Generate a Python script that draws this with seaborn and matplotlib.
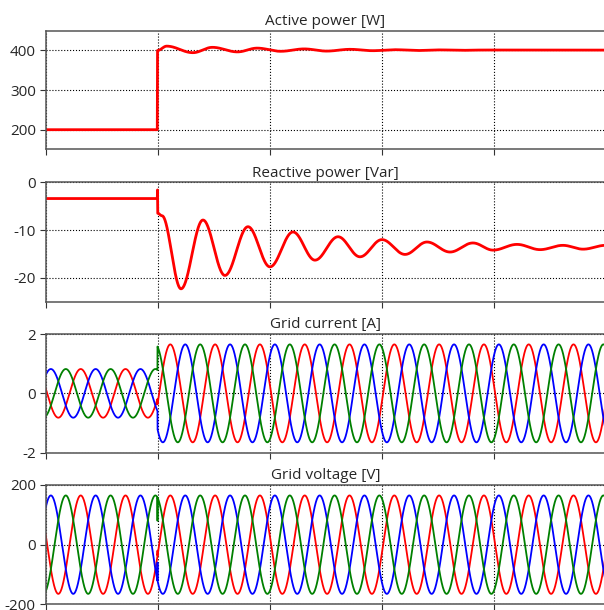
import numpy as np
import pandas as pd
import seaborn as sns
import matplotlib.pyplot as plt

sns.set_theme(style="white")
plt.rcParams['font.family'] = ['Open Sans', 'DejaVu Sans']
plt.rcParams['axes.unicode_minus'] = False

# ---- values ----
t_end = 0.25          # s, five 0.05 s grid cells
t_step = 0.05         # load step instant
dt = 2e-5
grid_freq = 50.0      # Hz

phase_names = ['a', 'b', 'c']
phase_colors = ['#ff0000', '#0000ff', '#008000']
phase_shift_deg = [167.0, 47.0, 287.0]

volt_amp = 165.0
volt_glitch = [-20.0, -60.0, 80.0]   # one-sample spike at the step
curr_amp_before = 0.82
curr_amp_after = 1.65

# active power: knots at the turning points of the response
p_knot_t = [0.0, 0.0499, 0.0500, 0.0541, 0.0658, 0.0745, 0.0857, 0.0945, 0.1050,
            0.1155, 0.1255, 0.1360, 0.1460, 0.1560, 0.1660, 0.1760, 0.1860,
            0.1960, 0.2500]
p_knot_v = [200, 200, 400, 411, 394.5, 408, 396.5, 406, 398,
            404, 398.5, 403, 399.5, 402, 400, 401.5, 400.5,
            401.2, 401]

# reactive power
q_knot_t = [0.0, 0.0499, 0.0500, 0.0501, 0.0520, 0.0605, 0.0703, 0.0801, 0.0904,
            0.1002, 0.1105, 0.1203, 0.1306, 0.1404, 0.1502, 0.1605, 0.1703,
            0.1806, 0.1908, 0.1998, 0.2105, 0.2208, 0.2310, 0.2400, 0.2500]
q_knot_v = [-3.4, -3.4, -1.6, -6.5, -7.0, -22.3, -7.9, -19.5, -9.3,
            -17.7, -10.4, -16.3, -11.4, -15.6, -12.0, -15.1, -12.5,
            -14.6, -12.7, -14.2, -13.0, -14.1, -13.2, -14.0, -13.2]

titles = ['Active power [W]', 'Reactive power [Var]', 'Grid current [A]', 'Grid voltage [V]']
yticks = [[200, 300, 400], [-20, -10, 0], [-2, 0, 2], [-200, 0, 200]]
ylims = [(150, 450), (-25, 0), (-2, 2), (-200, 200)]

# ---- build curves ----
t = np.arange(0, t_end + dt / 2, dt)


def smooth_through(kt, kv):
    # half-cosine segments between successive turning points
    out = np.empty_like(t)
    idx = np.clip(np.searchsorted(kt, t, side='right') - 1, 0, len(kt) - 2)
    t0 = np.asarray(kt)[idx]
    t1 = np.asarray(kt)[idx + 1]
    v0 = np.asarray(kv, dtype=float)[idx]
    v1 = np.asarray(kv, dtype=float)[idx + 1]
    s = np.clip((t - t0) / (t1 - t0), 0, 1)
    out[:] = v0 + (v1 - v0) * (1 - np.cos(np.pi * s)) / 2
    return out


df_p = pd.DataFrame({'t': t, 'v': smooth_through(p_knot_t, p_knot_v)})
df_q = pd.DataFrame({'t': t, 'v': smooth_through(q_knot_t, q_knot_v)})

i_step = int(round(t_step / dt))
w = 2 * np.pi * grid_freq
cur_rows, volt_rows = [], []
for name, ph, g in zip(phase_names, phase_shift_deg, volt_glitch):
    base = np.sin(w * t + np.deg2rad(ph))
    amp = np.where(t < t_step, curr_amp_before, curr_amp_after)
    v = volt_amp * base
    v[i_step] = g
    cur_rows.append(pd.DataFrame({'t': t, 'v': amp * base, 'phase': name}))
    volt_rows.append(pd.DataFrame({'t': t, 'v': v, 'phase': name}))
df_i = pd.concat(cur_rows, ignore_index=True)
df_v = pd.concat(volt_rows, ignore_index=True)

# ---- figure ----
fig = plt.figure(figsize=(6.04, 6.10), dpi=100)
W, H = 604.0, 610.0
left_px, right_px = 45.5, 605.5
tops = [30.7, 182.3, 334.0, 485.0]
bots = [149.5, 301.7, 452.7, 604.3]

palette = dict(zip(phase_names, phase_colors))
axes = []
for k in range(4):
    ax = fig.add_axes([left_px / W, (H - bots[k]) / H,
                       (right_px - left_px) / W, (bots[k] - tops[k]) / H])
    axes.append(ax)

sns.lineplot(data=df_p, x='t', y='v', ax=axes[0], color='#ff0000', lw=2.0,
             estimator=None, sort=False)
sns.lineplot(data=df_q, x='t', y='v', ax=axes[1], color='#ff0000', lw=2.0,
             estimator=None, sort=False)
sns.lineplot(data=df_i, x='t', y='v', hue='phase', palette=palette, ax=axes[2],
             lw=1.3, estimator=None, sort=False, legend=False)
sns.lineplot(data=df_v, x='t', y='v', hue='phase', palette=palette, ax=axes[3],
             lw=1.3, estimator=None, sort=False, legend=False)

for k, ax in enumerate(axes):
    ax.set_xlim(0, t_end)
    ax.set_ylim(*ylims[k])
    ax.set_xticks(np.arange(0, t_end + 1e-9, 0.05))
    ax.set_yticks(yticks[k])
    ax.set_xlabel('')
    ax.set_ylabel('')
    ax.set_title(titles[k], fontsize=11, pad=4)
    ax.grid(True, color='black', linestyle=':', linewidth=0.8)
    ax.tick_params(direction='out', length=4.5, width=0.8, color='#333333',
                   labelsize=11, pad=2.5, labelbottom=False,
                   bottom=True, left=True)
    for sp in ax.spines.values():
        sp.set_color('#555555')
        sp.set_linewidth(1.1)

plt.savefig('out.png', dpi=100)
